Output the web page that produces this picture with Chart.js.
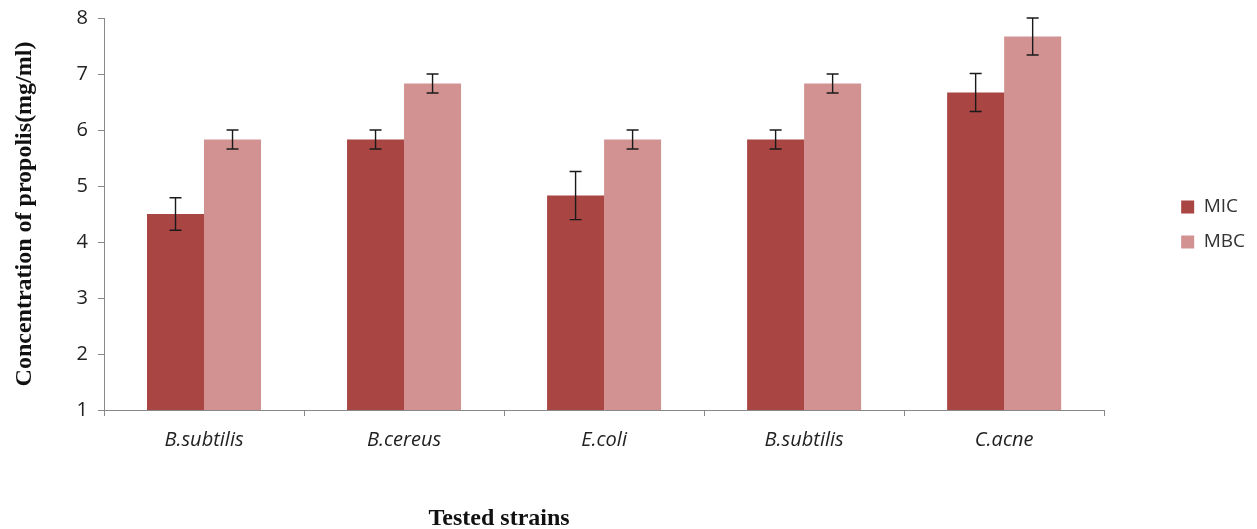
<!DOCTYPE html>
<html>
<head>
<meta charset="utf-8">
<script src="https://cdn.jsdelivr.net/npm/chart.js@4/dist/chart.umd.min.js"></script>
<style>
  html, body { margin: 0; padding: 0; background: #fff; }
  #wrap { width: 1257px; height: 529px; }
</style>
</head>
<body>
<div id="wrap"><canvas id="my-chart"></canvas></div>
<script>
'use strict';

let strainNames = ['B.subtilis', 'B.cereus', 'E.coli', 'B.subtilis', 'C.acne'];
let micValues = [4.5, 5.83, 4.83, 5.83, 6.67];
let micErrors = [0.29, 0.17, 0.43, 0.17, 0.34];
let mbcValues = [5.83, 6.83, 5.83, 6.83, 7.67];
let mbcErrors = [0.17, 0.17, 0.17, 0.17, 0.33];
let yTicks = [1, 2, 3, 4, 5, 6, 7, 8];

let canvasElement = document.getElementById('my-chart');

// draws the error whiskers on top of each bar
let errorBarPlugin = {
  id: 'errorBars',
  afterDatasetsDraw(chart) {
    let ctx = chart.ctx;
    let yScale = chart.scales.y;
    ctx.save();
    ctx.strokeStyle = '#1a1a1a';
    ctx.lineWidth = 1.4;
    chart.data.datasets.forEach(function (ds, di) {
      let meta = chart.getDatasetMeta(di);
      meta.data.forEach(function (bar, i) {
        let v = ds.data[i];
        let e = ds.errors[i];
        let yTop = yScale.getPixelForValue(v + e);
        let yBot = yScale.getPixelForValue(v - e);
        let x = bar.x;
        ctx.beginPath();
        ctx.moveTo(x, yTop);
        ctx.lineTo(x, yBot);
        ctx.moveTo(x - 6, yTop);
        ctx.lineTo(x + 6, yTop);
        ctx.moveTo(x - 6, yBot);
        ctx.lineTo(x + 6, yBot);
        ctx.stroke();
      });
    });
    ctx.restore();
  }
};

let chartObj = {
  type: 'bar',
  data: {
    labels: strainNames,
    datasets: [{
      label: 'MIC',
      data: micValues,
      errors: micErrors,
      backgroundColor: '#A94543',
      categoryPercentage: 0.57,
      barPercentage: 1.0
    },
    {
      label: 'MBC',
      data: mbcValues,
      errors: mbcErrors,
      backgroundColor: '#D19291',
      categoryPercentage: 0.57,
      barPercentage: 1.0
    }]
  },
  options: {
    responsive: true,
    maintainAspectRatio: false,
    animation: false,
    layout: {
      padding: { top: 6, right: 2, left: 10, bottom: 0 }
    },
    plugins: {
      tooltip: { enabled: false },
      legend: {
        position: 'right',
        align: 'start',
        title: {
          display: true,
          text: ' ',
          font: { size: 12 },
          padding: { top: 161, bottom: 0 }
        },
        labels: {
          boxWidth: 13,
          boxHeight: 13,
          padding: 16,
          color: '#333',
          font: { family: 'Open Sans', size: 19 }
        }
      }
    },
    scales: {
      x: {
        afterFit: function (s) { s.height = 119; },
        grid: {
          display: true,
          drawOnChartArea: false,
          offset: true,
          tickLength: 6,
          color: '#888'
        },
        border: { color: '#888', width: 1 },
        ticks: {
          color: '#222',
          padding: 12,
          font: { family: 'Open Sans', size: 20, style: 'italic' }
        },
        title: {
          display: true,
          text: 'Tested strains' + ' '.repeat(35),
          color: '#111',
          padding: { top: 0, bottom: -4 },
          font: { family: 'Liberation Serif', size: 24, weight: 'bold' }
        }
      },
      y: {
        min: 1,
        max: 8,
        afterFit: function (s) {
          s.width = 94;
          s.paddingTop = 18;
        },
        afterBuildTicks: function (axis) {
          axis.ticks = yTicks.map(function (v) { return { value: v }; });
        },
        grid: {
          display: true,
          drawOnChartArea: false,
          tickLength: 6,
          color: '#888'
        },
        border: { color: '#888', width: 1 },
        ticks: {
          color: '#222',
          padding: 10,
          font: { family: 'Open Sans', size: 20 }
        },
        title: {
          display: true,
          text: 'Concentration of propolis(mg/ml)',
          color: '#111',
          padding: { top: 0, bottom: 10 },
          font: { family: 'Liberation Serif', size: 24, weight: 'bold' }
        }
      },
      // empty spacer between the plot and the legend
      gap: {
        type: 'linear',
        position: 'right',
        display: true,
        afterFit: function (s) { s.width = 61; },
        grid: { display: false },
        border: { display: false },
        ticks: { display: false }
      }
    }
  },
  plugins: [errorBarPlugin]
};

new Chart(canvasElement, chartObj);
</script>
</body>
</html>
